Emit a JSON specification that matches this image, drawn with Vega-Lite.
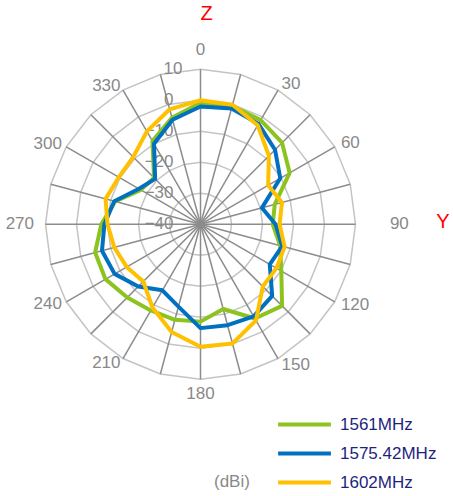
{
  "$schema": "https://vega.github.io/schema/vega-lite/v6.json",
  "width": 453,
  "height": 496,
  "autosize": {"type": "none"},
  "padding": 0,
  "background": "white",
  "config": {"view": {"stroke": null}, "font": "Liberation Sans"},
  "datasets": {
    "gain": [
      {"angle": 0, "series": "1561MHz", "dBi": -0.8}, {"angle": 0, "series": "1575.42MHz", "dBi": -2.0}, {"angle": 0, "series": "1602MHz", "dBi": 0.0},
      {"angle": 15, "series": "1561MHz", "dBi": -0.5}, {"angle": 15, "series": "1575.42MHz", "dBi": -1.3}, {"angle": 15, "series": "1602MHz", "dBi": -0.1},
      {"angle": 30, "series": "1561MHz", "dBi": -1.2}, {"angle": 30, "series": "1575.42MHz", "dBi": -2.6}, {"angle": 30, "series": "1602MHz", "dBi": -3.1},
      {"angle": 45, "series": "1561MHz", "dBi": -2.8}, {"angle": 45, "series": "1575.42MHz", "dBi": -6.0}, {"angle": 45, "series": "1602MHz", "dBi": -8.8},
      {"angle": 60, "series": "1561MHz", "dBi": -6.8}, {"angle": 60, "series": "1575.42MHz", "dBi": -10.3}, {"angle": 60, "series": "1602MHz", "dBi": -14.8},
      {"angle": 75, "series": "1561MHz", "dBi": -15.2}, {"angle": 75, "series": "1575.42MHz", "dBi": -19.5}, {"angle": 75, "series": "1602MHz", "dBi": -12.8},
      {"angle": 90, "series": "1561MHz", "dBi": -16.7}, {"angle": 90, "series": "1575.42MHz", "dBi": -15.8}, {"angle": 90, "series": "1602MHz", "dBi": -14.5},
      {"angle": 105, "series": "1561MHz", "dBi": -13.4}, {"angle": 105, "series": "1575.42MHz", "dBi": -12.7}, {"angle": 105, "series": "1602MHz", "dBi": -11.9},
      {"angle": 120, "series": "1561MHz", "dBi": -9.9}, {"angle": 120, "series": "1575.42MHz", "dBi": -14.2}, {"angle": 120, "series": "1602MHz", "dBi": -11.7},
      {"angle": 135, "series": "1561MHz", "dBi": -2.8}, {"angle": 135, "series": "1575.42MHz", "dBi": -7.3}, {"angle": 135, "series": "1602MHz", "dBi": -11.6},
      {"angle": 150, "series": "1561MHz", "dBi": -4.9}, {"angle": 150, "series": "1575.42MHz", "dBi": -5.7}, {"angle": 150, "series": "1602MHz", "dBi": -4.2},
      {"angle": 165, "series": "1561MHz", "dBi": -11.7}, {"angle": 165, "series": "1575.42MHz", "dBi": -6.3}, {"angle": 165, "series": "1602MHz", "dBi": -0.2},
      {"angle": 180, "series": "1561MHz", "dBi": -8.6}, {"angle": 180, "series": "1575.42MHz", "dBi": -6.5}, {"angle": 180, "series": "1602MHz", "dBi": -0.5},
      {"angle": 195, "series": "1561MHz", "dBi": -8.1}, {"angle": 195, "series": "1575.42MHz", "dBi": -12.5}, {"angle": 195, "series": "1602MHz", "dBi": -4.0},
      {"angle": 210, "series": "1561MHz", "dBi": -7.9}, {"angle": 210, "series": "1575.42MHz", "dBi": -15.4}, {"angle": 210, "series": "1602MHz", "dBi": -9.0},
      {"angle": 225, "series": "1561MHz", "dBi": -6.6}, {"angle": 225, "series": "1575.42MHz", "dBi": -11.6}, {"angle": 225, "series": "1602MHz", "dBi": -13.9},
      {"angle": 240, "series": "1561MHz", "dBi": -4.6}, {"angle": 240, "series": "1575.42MHz", "dBi": -8.0}, {"angle": 240, "series": "1602MHz", "dBi": -12.5},
      {"angle": 255, "series": "1561MHz", "dBi": -4.8}, {"angle": 255, "series": "1575.42MHz", "dBi": -7.1}, {"angle": 255, "series": "1602MHz", "dBi": -11.2},
      {"angle": 270, "series": "1561MHz", "dBi": -8.0}, {"angle": 270, "series": "1575.42MHz", "dBi": -9.0}, {"angle": 270, "series": "1602MHz", "dBi": -10.0},
      {"angle": 285, "series": "1561MHz", "dBi": -11.5}, {"angle": 285, "series": "1575.42MHz", "dBi": -11.2}, {"angle": 285, "series": "1602MHz", "dBi": -8.3},
      {"angle": 300, "series": "1561MHz", "dBi": -17.8}, {"angle": 300, "series": "1575.42MHz", "dBi": -17.1}, {"angle": 300, "series": "1602MHz", "dBi": -9.6},
      {"angle": 315, "series": "1561MHz", "dBi": -18.8}, {"angle": 315, "series": "1575.42MHz", "dBi": -19.3}, {"angle": 315, "series": "1602MHz", "dBi": -9.3},
      {"angle": 330, "series": "1561MHz", "dBi": -9.0}, {"angle": 330, "series": "1575.42MHz", "dBi": -10.0}, {"angle": 330, "series": "1602MHz", "dBi": -5.4},
      {"angle": 345, "series": "1561MHz", "dBi": -4.4}, {"angle": 345, "series": "1575.42MHz", "dBi": -5.1}, {"angle": 345, "series": "1602MHz", "dBi": -1.6}
    ],
    "rings": [
      {"ring": -30, "angles": [0,15,30,45,60,75,90,105,120,135,150,165,180,195,210,225,240,255,270,285,300,315,330,345]},
      {"ring": -20, "angles": [0,15,30,45,60,75,90,105,120,135,150,165,180,195,210,225,240,255,270,285,300,315,330,345]},
      {"ring": -10, "angles": [0,15,30,45,60,75,90,105,120,135,150,165,180,195,210,225,240,255,270,285,300,315,330,345]},
      {"ring": 0, "angles": [0,15,30,45,60,75,90,105,120,135,150,165,180,195,210,225,240,255,270,285,300,315,330,345]},
      {"ring": 10, "angles": [0,15,30,45,60,75,90,105,120,135,150,165,180,195,210,225,240,255,270,285,300,315,330,345]}
    ],
    "ticks": [{"ring": -40}, {"ring": -30}, {"ring": -20}, {"ring": -10}, {"ring": 0}, {"ring": 10}],
    "cats": [{"angle": 0}, {"angle": 30}, {"angle": 60}, {"angle": 90}, {"angle": 120}, {"angle": 150}, {"angle": 180}, {"angle": 210}, {"angle": 240}, {"angle": 270}, {"angle": 300}, {"angle": 330}],
    "planes": [{"name": "Z", "angle": 0}, {"name": "Y", "angle": 90}]
  },
  "encoding": {
    "x": {"field": "x", "type": "quantitative", "scale": {"domain": [-64.68, 81.45], "nice": false, "zero": false}, "axis": null},
    "y": {"field": "y", "type": "quantitative", "scale": {"domain": [-87.65, 72.35], "nice": false, "zero": false}, "axis": null}
  },
  "layer": [
    {
      "data": {"name": "rings"},
      "transform": [
        {"flatten": ["angles"], "as": ["angle"]},
        {"calculate": "(datum.ring+40)*sin(datum.angle*PI/180)", "as": "x"},
        {"calculate": "(datum.ring+40)*cos(datum.angle*PI/180)", "as": "y"}
      ],
      "mark": {"type": "line", "interpolate": "linear-closed", "stroke": "#c4c4c4", "strokeWidth": 1.5},
      "encoding": {"detail": {"field": "ring", "type": "nominal"}, "order": {"field": "angle", "type": "quantitative"}}
    },
    {
      "data": {"name": "gain"},
      "transform": [
        {"filter": "datum.series === '1561MHz'"},
        {"calculate": "50*sin(datum.angle*PI/180)", "as": "x"},
        {"calculate": "50*cos(datum.angle*PI/180)", "as": "y"}
      ],
      "mark": {"type": "rule", "stroke": "#8c8c8c", "strokeWidth": 1.5},
      "encoding": {"x2": {"datum": 0}, "y2": {"datum": 0}}
    },
    {
      "data": {"name": "ticks"},
      "transform": [
        {"filter": "datum.ring < 10"},
        {"calculate": "0", "as": "x"},
        {"calculate": "datum.ring+40", "as": "y"}
      ],
      "mark": {"type": "text", "align": "right", "baseline": "middle", "dx": -27, "fontSize": 17, "color": "#898989"},
      "encoding": {"text": {"field": "ring", "type": "quantitative"}}
    },
    {
      "data": {"name": "ticks"},
      "transform": [
        {"filter": "datum.ring == 10"},
        {"calculate": "0", "as": "x"},
        {"calculate": "datum.ring+40", "as": "y"}
      ],
      "mark": {"type": "text", "align": "right", "baseline": "middle", "dx": -18, "fontSize": 17, "color": "#898989"},
      "encoding": {"text": {"field": "ring", "type": "quantitative"}}
    },
    {
      "data": {"name": "gain"},
      "transform": [
        {"calculate": "(datum.dBi+40)*sin(datum.angle*PI/180)", "as": "x"},
        {"calculate": "(datum.dBi+40)*cos(datum.angle*PI/180)", "as": "y"}
      ],
      "mark": {"type": "line", "interpolate": "linear-closed", "strokeWidth": 4, "strokeJoin": "round"},
      "encoding": {
        "color": {
          "field": "series", "type": "nominal",
          "scale": {"domain": ["1561MHz", "1575.42MHz", "1602MHz"], "range": ["#8cc31e", "#0070c0", "#ffc000"]},
          "legend": {
            "orient": "none", "legendX": 214, "legendY": 416,
            "title": "(dBi)", "titleOrient": "left", "titleAnchor": "end", "titleBaseline": "bottom", "titleColor": "#898989", "titleFontSize": 17, "titleFontWeight": "normal", "titlePadding": 46,
            "symbolType": "M-4.8,0H4.8", "symbolSize": 121, "symbolStrokeWidth": 4, "symbolFillColor": "transparent",
            "labelFontSize": 17, "labelColor": "#1f1f80", "labelOffset": 27, "rowPadding": 11
          }
        },
        "order": {"field": "angle", "type": "quantitative"}
      }
    },
    {
      "data": {"name": "cats"},
      "transform": [
        {"filter": "datum.angle == 0 || datum.angle == 180"},
        {"calculate": "55.5*sin(datum.angle*PI/180)", "as": "x"},
        {"calculate": "55.5*cos(datum.angle*PI/180)", "as": "y"}
      ],
      "mark": {"type": "text", "align": "center", "baseline": "middle", "dy": -2, "fontSize": 17, "color": "#898989"},
      "encoding": {"text": {"field": "angle", "type": "quantitative"}}
    },
    {
      "data": {"name": "cats"},
      "transform": [
        {"filter": "datum.angle > 0 && datum.angle < 180 && datum.angle != 90"},
        {"calculate": "52.3*sin(datum.angle*PI/180)", "as": "x"},
        {"calculate": "52.3*cos(datum.angle*PI/180)", "as": "y"}
      ],
      "mark": {"type": "text", "align": "left", "baseline": "middle", "fontSize": 17, "color": "#898989"},
      "encoding": {"text": {"field": "angle", "type": "quantitative"}}
    },
    {
      "data": {"name": "cats"},
      "transform": [
        {"filter": "datum.angle == 90"},
        {"calculate": "61.1*sin(datum.angle*PI/180)", "as": "x"},
        {"calculate": "61.1*cos(datum.angle*PI/180)", "as": "y"}
      ],
      "mark": {"type": "text", "align": "left", "baseline": "middle", "fontSize": 17, "color": "#898989"},
      "encoding": {"text": {"field": "angle", "type": "quantitative"}}
    },
    {
      "data": {"name": "cats"},
      "transform": [
        {"filter": "datum.angle > 180 && datum.angle != 270"},
        {"calculate": "51.6*sin(datum.angle*PI/180)", "as": "x"},
        {"calculate": "51.6*cos(datum.angle*PI/180)", "as": "y"}
      ],
      "mark": {"type": "text", "align": "right", "baseline": "middle", "fontSize": 17, "color": "#898989"},
      "encoding": {"text": {"field": "angle", "type": "quantitative"}}
    },
    {
      "data": {"name": "cats"},
      "transform": [
        {"filter": "datum.angle == 270"},
        {"calculate": "53.7*sin(datum.angle*PI/180)", "as": "x"},
        {"calculate": "53.7*cos(datum.angle*PI/180)", "as": "y"}
      ],
      "mark": {"type": "text", "align": "right", "baseline": "middle", "fontSize": 17, "color": "#898989"},
      "encoding": {"text": {"field": "angle", "type": "quantitative"}}
    },
    {
      "data": {"name": "planes"},
      "transform": [
        {"filter": "datum.name === 'Z'"},
        {"calculate": "67.8*sin(datum.angle*PI/180)", "as": "x"},
        {"calculate": "67.8*cos(datum.angle*PI/180)", "as": "y"}
      ],
      "mark": {"type": "text", "align": "center", "baseline": "middle", "dx": 6, "fontSize": 20, "color": "#ff0000"},
      "encoding": {"text": {"field": "name", "type": "nominal"}}
    },
    {
      "data": {"name": "planes"},
      "transform": [
        {"filter": "datum.name === 'Y'"},
        {"calculate": "78.2*sin(datum.angle*PI/180)", "as": "x"},
        {"calculate": "78.2*cos(datum.angle*PI/180)", "as": "y"}
      ],
      "mark": {"type": "text", "align": "center", "baseline": "middle", "dy": -2, "fontSize": 20, "color": "#ff0000"},
      "encoding": {"text": {"field": "name", "type": "nominal"}}
    }
  ]
}
